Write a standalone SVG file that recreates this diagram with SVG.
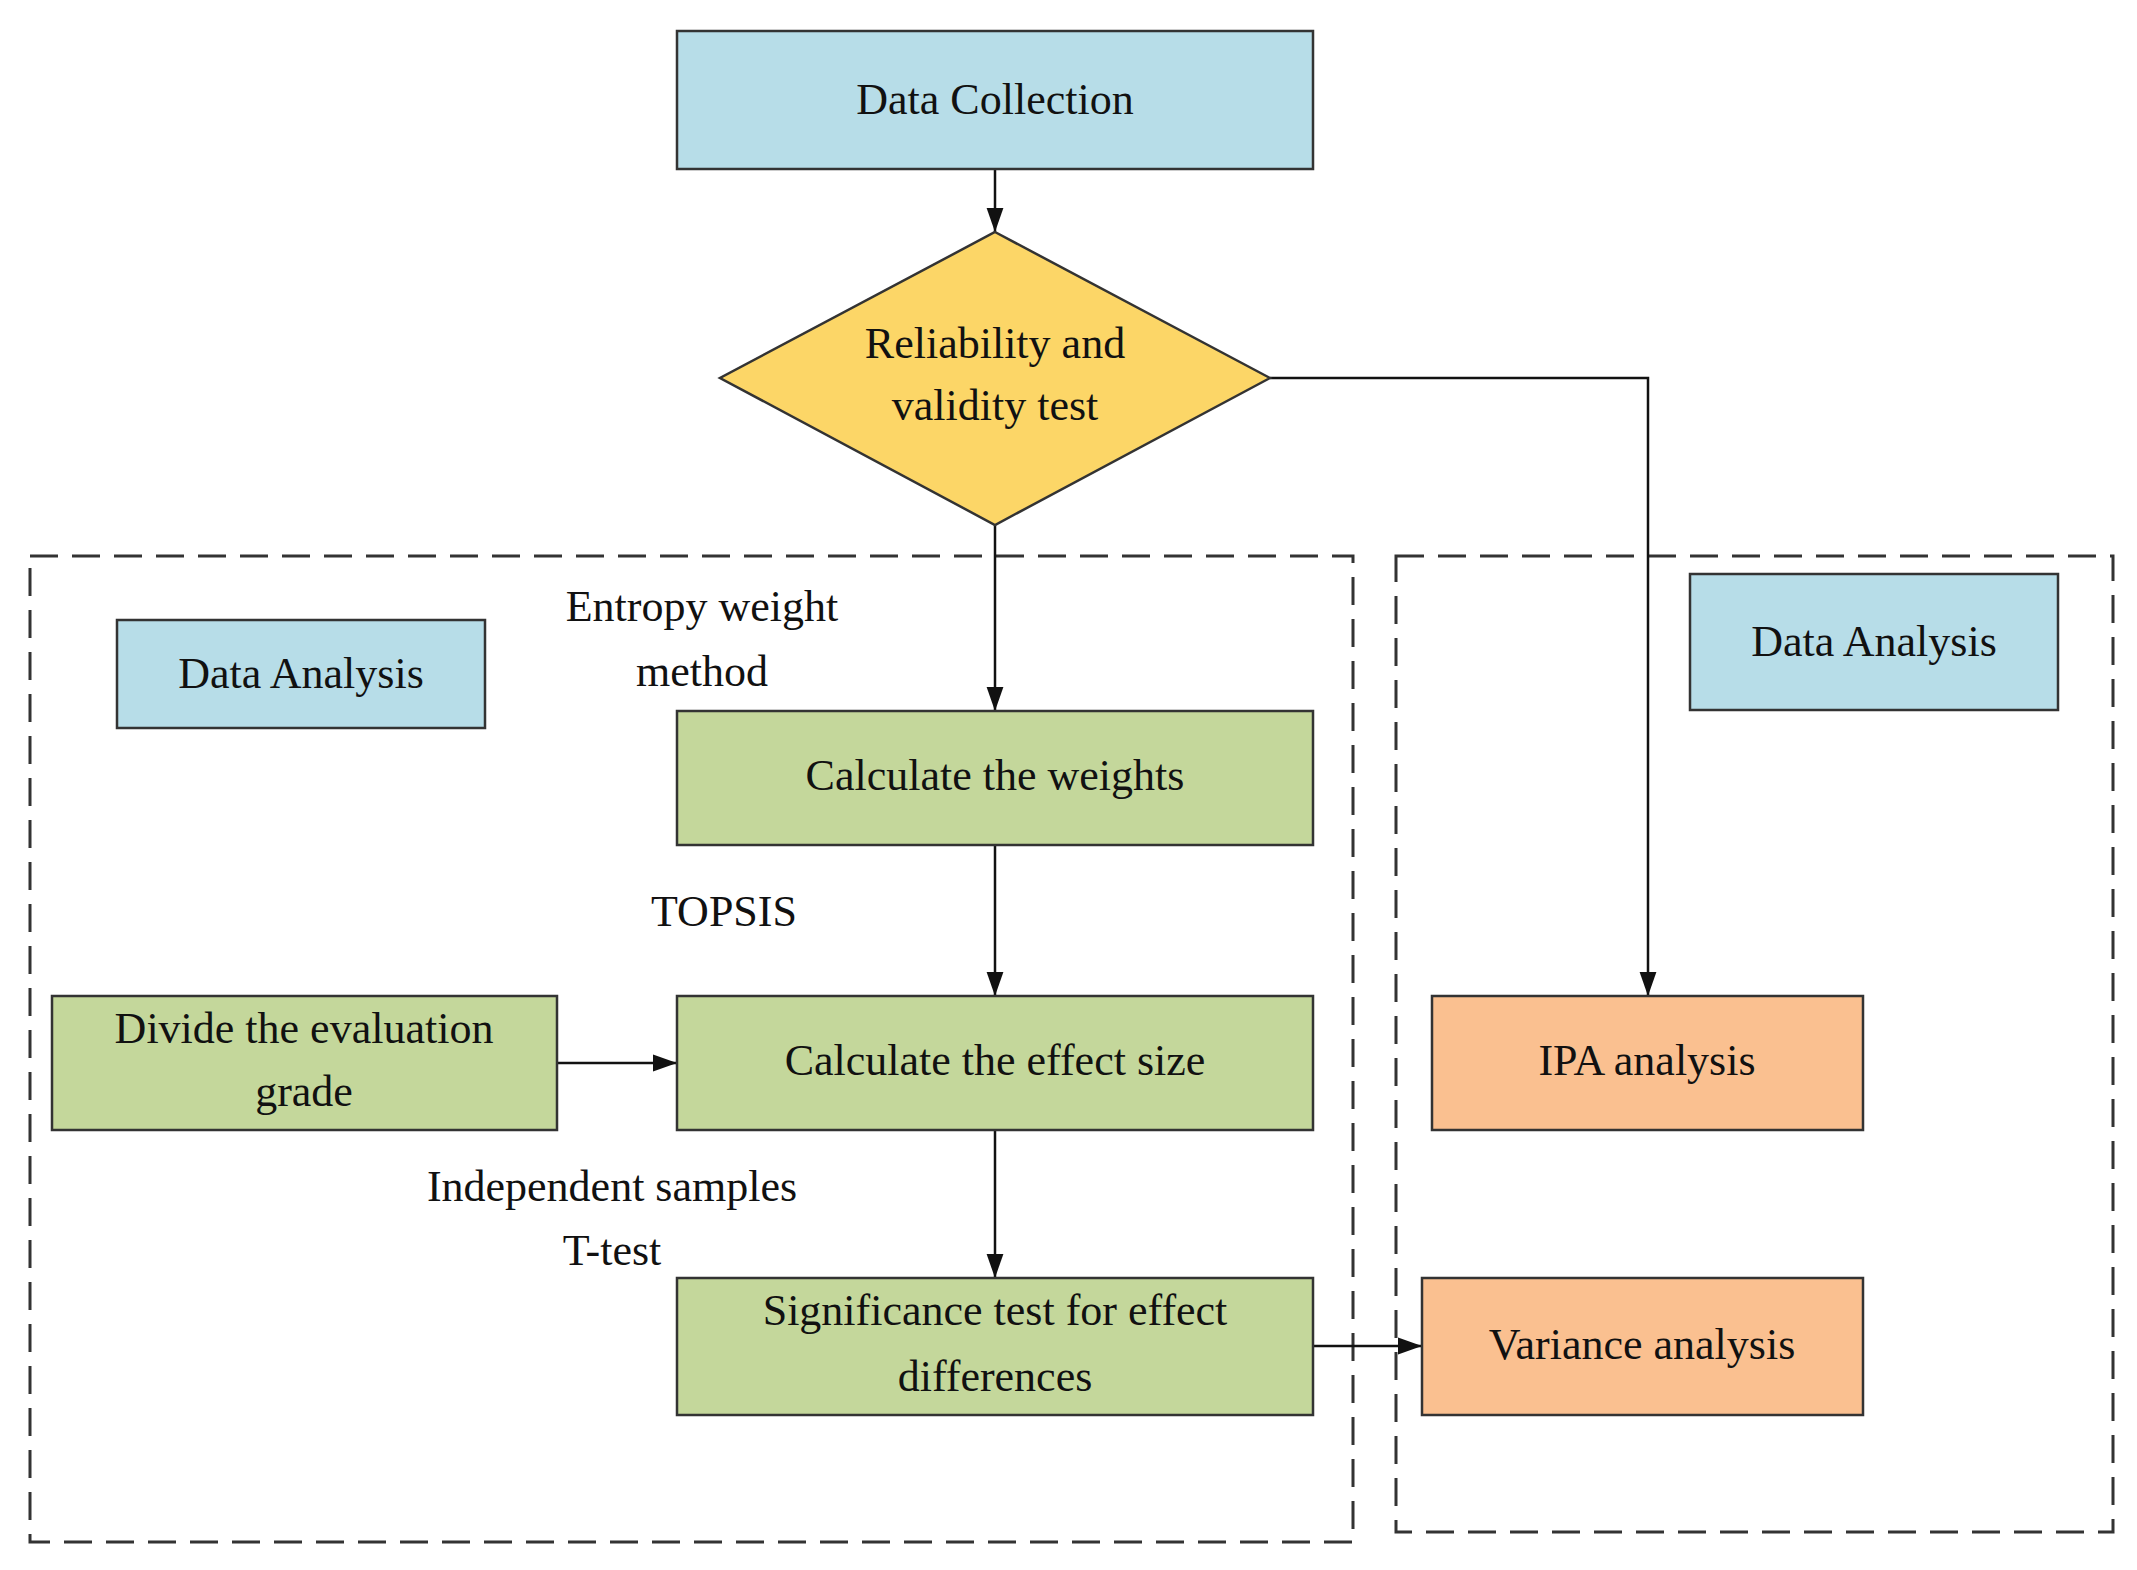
<svg xmlns="http://www.w3.org/2000/svg" width="2137" height="1570" viewBox="0 0 2137 1570">
<style>
text{font-family:"Liberation Serif","Times New Roman",serif;font-size:44px;fill:#111;text-anchor:middle}
.b{stroke:#333;stroke-width:2.5}
.blue{fill:#b7dde8}.green{fill:#c4d79b}.orange{fill:#fac090}.yellow{fill:#fcd667}
.dash{fill:none;stroke:#333;stroke-width:3;stroke-dasharray:28 14}
.c{fill:none;stroke:#111;stroke-width:2.5;marker-end:url(#a)}
</style>
<defs><marker id="a" viewBox="0 0 10 10" refX="10" refY="5" markerWidth="12" markerHeight="12" markerUnits="userSpaceOnUse" orient="auto"><path d="M0,0L10,5L0,10z" fill="#111"/></marker>
<marker id="a2" viewBox="0 0 10 10" refX="10" refY="5" markerWidth="24" markerHeight="24" markerUnits="userSpaceOnUse" orient="auto"><path d="M0,1.5L10,5L0,8.5z" fill="#111"/></marker></defs>
<rect class="dash" x="30" y="556" width="1323" height="986"/>
<rect class="dash" x="1396" y="556" width="717" height="976"/>
<g id="connectors" style="marker-end:url(#a2)">
<path class="c" style="marker-end:url(#a2)" d="M995,169V232"/>
<path class="c" style="marker-end:url(#a2)" d="M995,525V711"/>
<path class="c" style="marker-end:url(#a2)" d="M995,845V996"/>
<path class="c" style="marker-end:url(#a2)" d="M995,1130V1278"/>
<path class="c" style="marker-end:url(#a2)" d="M557,1063H677"/>
<path class="c" style="marker-end:url(#a2)" d="M1313,1346H1422"/>
<path class="c" style="marker-end:url(#a2)" d="M1270,378H1648V996"/>
</g>
<g id="dc"><rect class="b blue" x="677" y="31" width="636" height="138"/><text x="995" y="114">Data Collection</text></g>
<g id="rv"><polygon class="b yellow" points="995,232 1270,378 995,525 720,378"/><text x="995" y="358">Reliability and</text><text x="995" y="420">validity test</text></g>
<g id="da1"><rect class="b blue" x="117" y="620" width="368" height="108"/><text x="301" y="688">Data Analysis</text></g>
<g id="da2"><rect class="b blue" x="1690" y="574" width="368" height="136"/><text x="1874" y="656">Data Analysis</text></g>
<g id="cw"><rect class="b green" x="677" y="711" width="636" height="134"/><text x="995" y="790">Calculate the weights</text></g>
<g id="ce"><rect class="b green" x="677" y="996" width="636" height="134"/><text x="995" y="1075">Calculate the effect size</text></g>
<g id="dv"><rect class="b green" x="52" y="996" width="505" height="134"/><text x="304" y="1043">Divide the evaluation</text><text x="304" y="1106">grade</text></g>
<g id="st"><rect class="b green" x="677" y="1278" width="636" height="137"/><text x="995" y="1325">Significance test for effect</text><text x="995" y="1391">differences</text></g>
<g id="ipa"><rect class="b orange" x="1432" y="996" width="431" height="134"/><text x="1647" y="1075">IPA analysis</text></g>
<g id="va"><rect class="b orange" x="1422" y="1278" width="441" height="137"/><text x="1642" y="1359">Variance analysis</text></g>
<g id="labels">
<text x="702" y="621">Entropy weight</text><text x="702" y="686">method</text>
<text x="724" y="926">TOPSIS</text>
<text x="612" y="1201">Independent samples</text><text x="612" y="1265">T-test</text>
</g>
</svg>
